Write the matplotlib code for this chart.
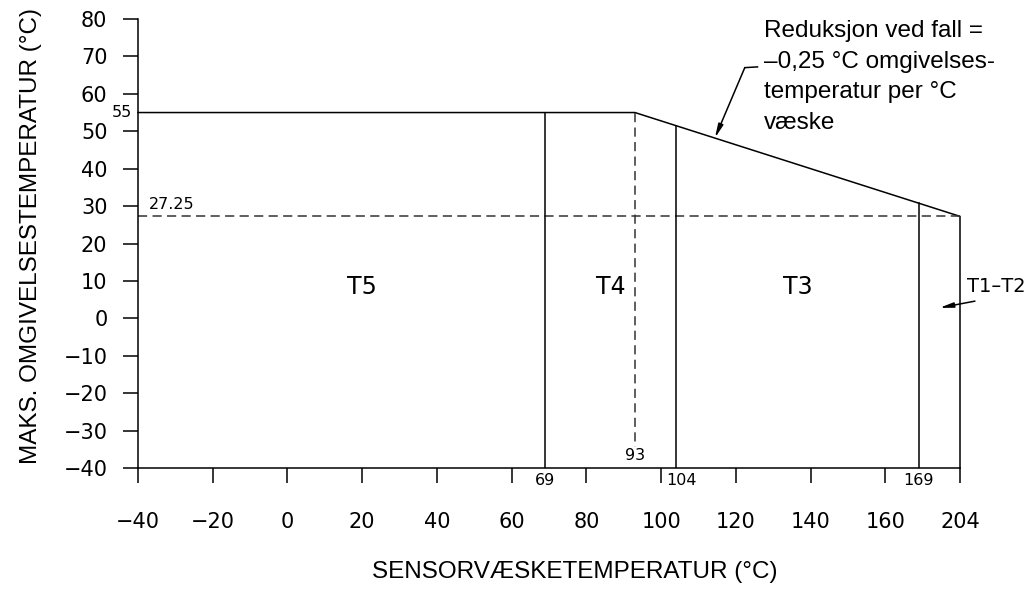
import matplotlib
matplotlib.use("Agg")
import matplotlib.pyplot as plt
import numpy as np

# ---- data ----
x_ticks = [-40, -20, 0, 20, 40, 60, 80, 100, 120, 140, 160, 180]
x_tick_labels = ["\u221240", "\u221220", "0", "20", "40", "60", "80", "100", "120", "140", "160", "204"]
y_ticks = [80, 70, 60, 50, 40, 30, 20, 10, 0, -10, -20, -30, -40]
y_tick_labels = ["80", "70", "60", "50", "40", "30", "20", "10", "0", "\u221210", "\u221220", "\u221230", "\u221240"]

# limit curve (x positions as drawn; last point is labelled 204)
curve_x = [-40, 93, 180, 180]
curve_y = [55, 55, 27.25, -40]
max_ambient = 55
reduced_ambient = 27.25
knee_x = 93
class_bounds = [69, 104, 169]
classes = ["T5", "T4", "T3"]
class_label_x = [20, 86.5, 136.5]

fig = plt.figure(figsize=(10.29, 6.16), dpi=100)
ax = fig.add_axes([138/1029, 1-468/616, (960-138)/1029, (468-19)/616])
ax.set_xlim(-40, 180)
ax.set_ylim(-40, 80)

lw = 1.1
tick_font = dict(family="DejaVu Sans", size=15)
small_font = dict(family="DejaVu Sans", size=11.5)
sans = "Liberation Sans"

for s in ["top", "right"]:
    ax.spines[s].set_visible(False)
for s in ["left", "bottom"]:
    ax.spines[s].set_linewidth(lw)

ax.set_xticks(x_ticks)
ax.set_xticklabels(x_tick_labels, **tick_font)
ax.set_yticks(y_ticks)
ax.set_yticklabels(y_tick_labels, **tick_font)
ax.tick_params(axis="x", direction="out", length=11, width=lw, pad=21)
ax.tick_params(axis="y", direction="out", length=11, width=lw, pad=11)

# limit curve
ax.plot(curve_x, curve_y, color="black", lw=lw, clip_on=False)
# dashed reference lines
ax.plot([-40, 180], [reduced_ambient, reduced_ambient], color="#333333", lw=lw,
        dashes=(6, 3.5), clip_on=False)
ax.plot([knee_x, knee_x], [max_ambient, -34.5], color="#333333", lw=lw,
        dashes=(6, 3.5), clip_on=False)

# class boundaries
for b in class_bounds:
    top = np.interp(b, curve_x[:3], curve_y[:3])
    ax.plot([b, b], [top, -40], color="black", lw=lw)

# small value labels
ax.text(-41.5, max_ambient, "55", ha="right", va="center", **small_font)
ax.text(-37, reduced_ambient + 1.2, "27.25", ha="left", va="bottom", **small_font)
ax.text(knee_x, -34.6, "93", ha="center", va="top", **small_font)
ax.text(69, -41.3, "69", ha="center", va="top", **small_font)
ax.text(101.5, -41.3, "104", ha="left", va="top", **small_font)
ax.text(169, -41.3, "169", ha="center", va="top", **small_font)

# class labels
for name, xc in zip(classes, class_label_x):
    ax.text(xc, 8.4, name, ha="center", va="center", family="DejaVu Sans", size=17)
ax.text(182, 8.4, "T1\u2013T2", ha="left", va="center", clip_on=False,
        family="DejaVu Sans", size=14)
ax.annotate("", xy=(174.5, 2.8), xytext=(184, 4.6), annotation_clip=False,
            arrowprops=dict(arrowstyle="-|>,head_length=0.8,head_width=0.15",
                            color="black", lw=lw, shrinkA=0, shrinkB=0))

# slope annotation
ax.text(127.5, 79.6,
        "Reduksjon ved fall =\n\u20130,25 \u00b0C omgivelses-\ntemperatur per \u00b0C\nv\u00e6ske",
        ha="left", va="top", family=sans, size=17.5, linespacing=1.5, clip_on=False)
ax.plot([125.8, 122.4], [67.2, 67.0], color="black", lw=lw, clip_on=False)
ax.annotate("", xy=(114.4, 48.2), xytext=(122.4, 67.0), annotation_clip=False,
            arrowprops=dict(arrowstyle="-|>,head_length=0.8,head_width=0.15",
                            color="black", lw=lw, shrinkA=0, shrinkB=0))

# axis titles
fig.text(575/1029, 1-572/616, "SENSORV\u00c6SKETEMPERATUR (\u00b0C)", ha="center", va="center",
         family=sans, size=17.5)
fig.text(31/1029, 1-236/616, "MAKS. OMGIVELSESTEMPERATUR (\u00b0C)", ha="center", va="center",
         rotation=90, family=sans, size=17.5)

fig.savefig("out.png", dpi=100, facecolor="white")
